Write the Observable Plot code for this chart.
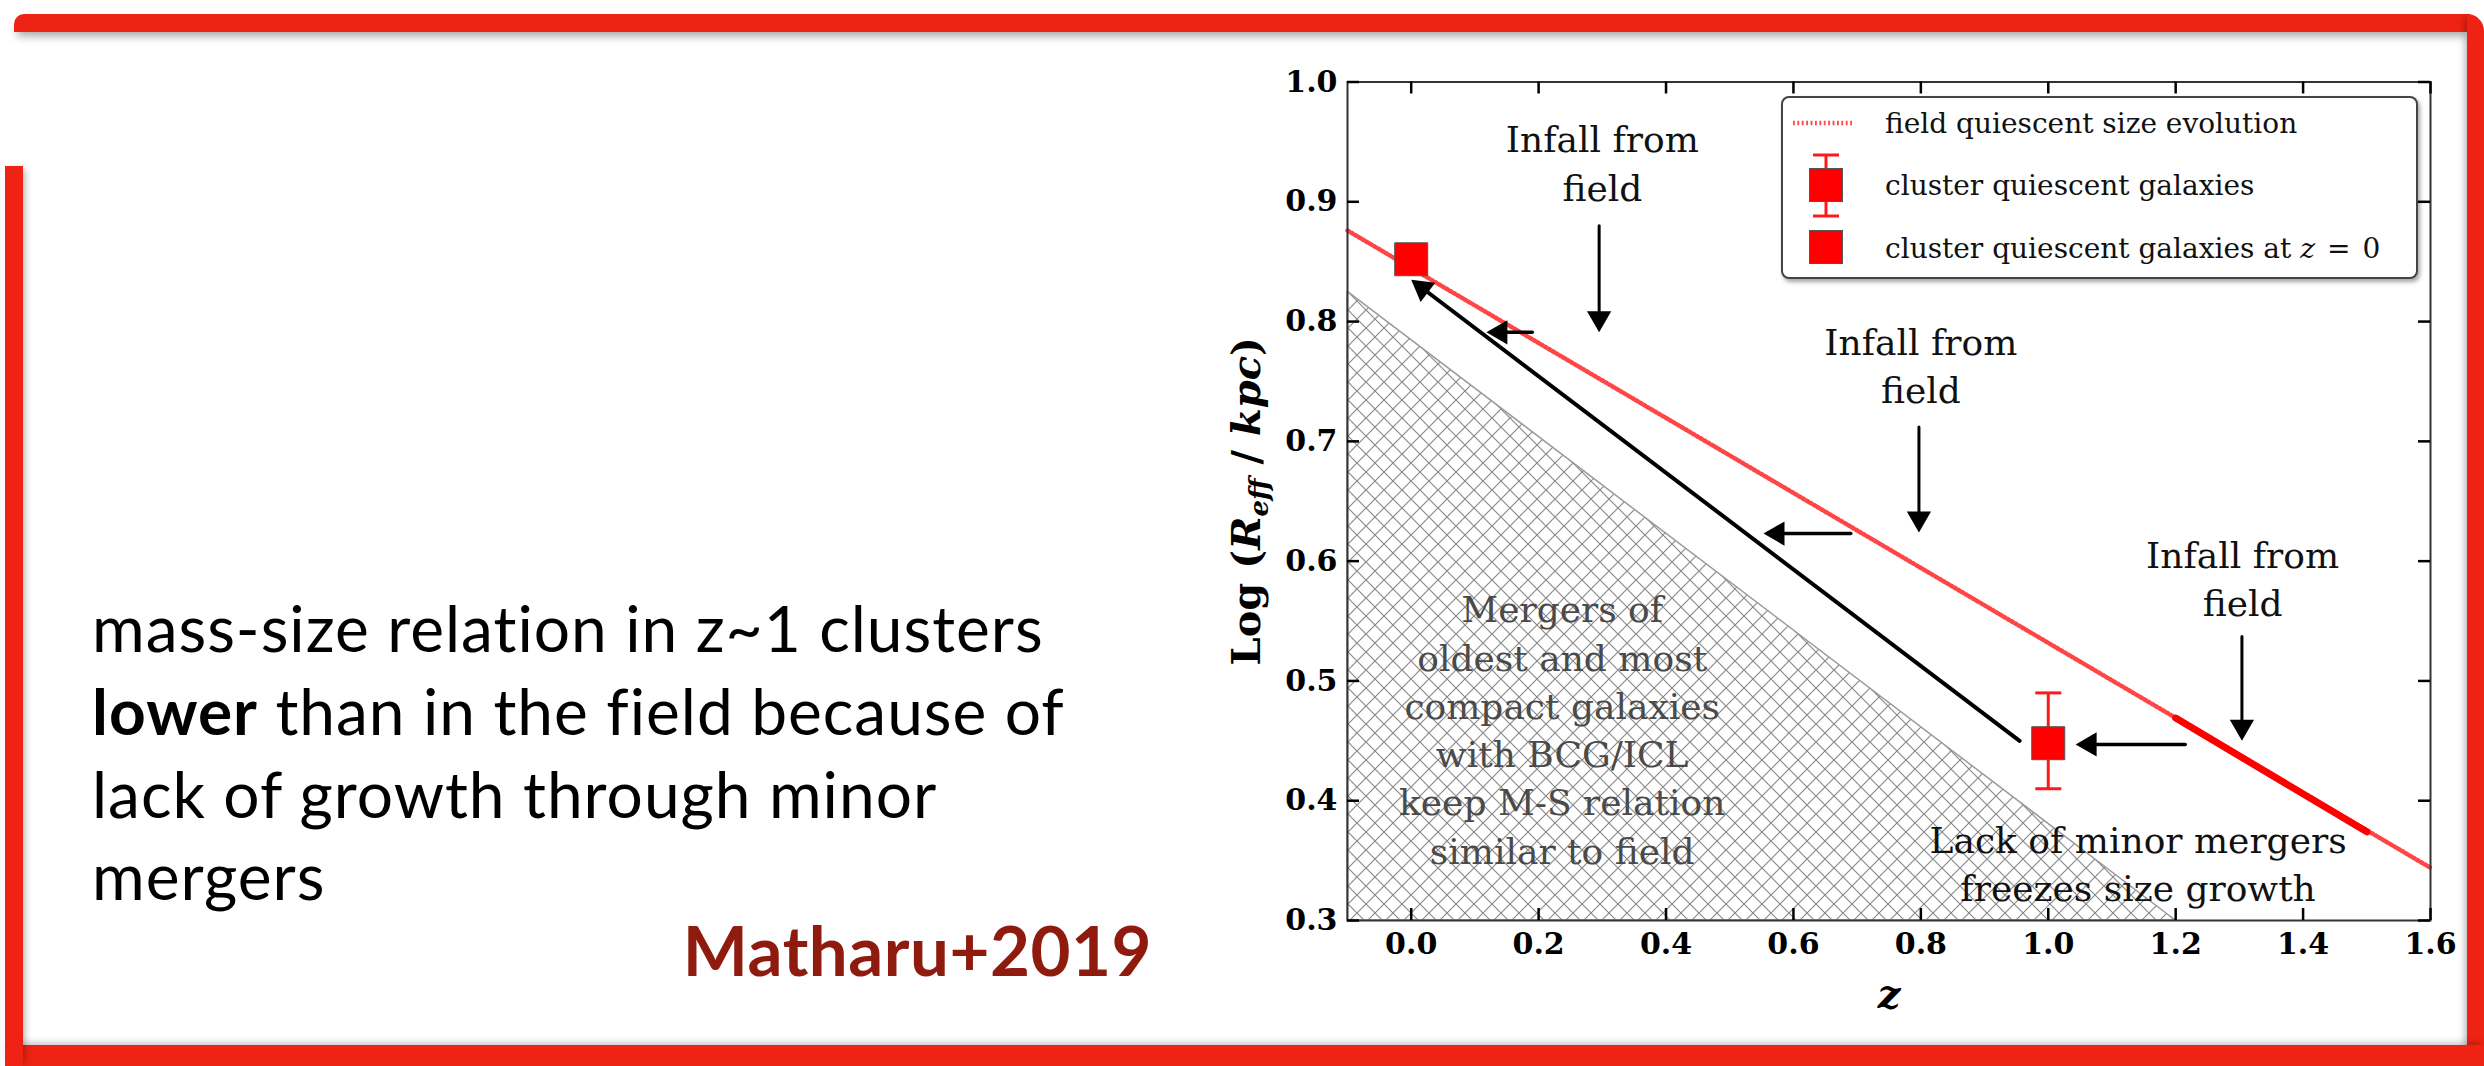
<!DOCTYPE html>
<html><head><meta charset="utf-8">
<script src="https://cdn.jsdelivr.net/npm/d3@7"></script>
<script src="https://cdn.jsdelivr.net/npm/@observablehq/plot@0.6"></script>
<style>
html,body{margin:0;padding:0;background:#fff;}
#page{position:relative;width:2484px;height:1066px;overflow:hidden;background:#fff;}
#chart{position:absolute;left:1150px;top:40px;width:1320px;height:1010px;}
#chart svg{overflow:visible;}
.bar{position:absolute;background:#ee2313;z-index:5;}
#legend,#lefttext{position:absolute;overflow:visible;}
</style></head><body><div id="page">
<div id="chart"></div>
<div class="bar" style="left:14px;top:14px;width:2456px;height:18px;box-shadow:0 7px 8px -3px rgba(0,0,0,0.35);border-top-left-radius:10px;"></div>
<div class="bar" style="left:2467px;top:14px;width:17px;height:1052px;border-top-right-radius:22px;box-shadow:-5px 0 7px -3px rgba(0,0,0,0.3);"></div>
<div class="bar" style="left:5px;top:1045px;width:2479px;height:21px;box-shadow:0 -5px 7px -3px rgba(0,0,0,0.25);"></div>
<div class="bar" style="left:5px;top:166px;width:18px;height:900px;box-shadow:5px 0 7px -3px rgba(0,0,0,0.3);"></div>
</div>
<script>
// ---------- data ----------
const xDomain = [-0.1, 1.6];
const yDomain = [0.3, 1.0];
const xTicks = [0.0, 0.2, 0.4, 0.6, 0.8, 1.0, 1.2, 1.4, 1.6];
const yTicks = [0.3, 0.4, 0.5, 0.6, 0.7, 0.8, 0.9, 1.0];

// field quiescent size evolution (dotted line)
const fieldZ = [-0.1, 1.6];
const fieldLogR = [0.876, 0.344];
// highlighted part of the field relation
const segZ = [1.2, 1.5];
const segLogR = [0.469, 0.374];
// hatched region (mergers with BCG/ICL)
const hatchZ = [-0.1, 1.2];
const hatchTop = [0.825, 0.3];
const hatchBottom = [0.3, 0.3];
// cluster quiescent galaxies (with error bar)
const clusterZ = [1.0];
const clusterLogR = [0.448];
const clusterLo = [0.41];
const clusterHi = [0.49];
// cluster quiescent galaxies at z = 0
const z0Z = [0.0];
const z0LogR = [0.852];

// arrows (tail -> tip)
const arrowKind = ["diag", "left", "down", "left", "down", "left", "down"];
const arrowTailZ = [0.955, 0.19, 0.295, 0.69, 0.797, 1.215, 1.304];
const arrowTailY = [0.45, 0.791, 0.88, 0.623, 0.712, 0.447, 0.537];
const arrowTipZ = [0.0, 0.118, 0.295, 0.553, 0.797, 1.043, 1.304];
const arrowTipY = [0.835, 0.791, 0.791, 0.623, 0.624, 0.447, 0.450];

// annotations
const annText = [
  "Infall from\nfield",
  "Infall from\nfield",
  "Infall from\nfield",
  "Mergers of\noldest and most\ncompact galaxies\nwith BCG/ICL\nkeep M-S relation\nsimilar to field",
  "Lack of minor mergers\nfreezes size growth"
];
const annZ = [0.3, 0.8, 1.305, 0.237, 1.141];
const annY = [0.934, 0.765, 0.587, 0.461, 0.349];
const annGroup = ["infall", "infall", "infall", "mergers", "lack"];

const legendLabels = ["field quiescent size evolution", "cluster quiescent galaxies", "cluster quiescent galaxies at "];
const yLabelText = "Log (Reff / kpc)";
const yLabelParts = [
  {t: "Log (", italic: false},
  {t: "R", italic: true},
  {t: "eff", italic: true, sub: true},
  {t: " / ", italic: false},
  {t: "kpc", italic: true},
  {t: ")", italic: false}
];
const xLabelText = "z";
const introLines = [
  [{t: "mass-size relation in z~1 clusters"}],
  [{t: "lower", b: true}, {t: " than in the field because of"}],
  [{t: "lack of growth through minor"}],
  [{t: "mergers"}]
];
const citation = "Matharu+2019";

// ---------- layout ----------
const W = 1320, H = 1010;
const mL = 197, mR = 40, mT = 41.5, mB = 130;
const plotW = W - mL - mR, plotH = H - mT - mB;
const kx = plotW / (xDomain[1] - xDomain[0]);
const ky = plotH / (yDomain[1] - yDomain[0]);
const serif = "DejaVu Serif";
const RED = "#ff1a1a";
const DOT_RED = "#ff4545";

const fieldData = fieldZ.map((z, i) => ({z, v: fieldLogR[i]}));
const segData = segZ.map((z, i) => ({z, v: segLogR[i]}));
const hatchData = hatchZ.map((z, i) => ({z, lo: hatchBottom[i], hi: hatchTop[i]}));
const clusterData = clusterZ.map((z, i) => ({z, v: clusterLogR[i], lo: clusterLo[i], hi: clusterHi[i]}));
const capData = clusterData.flatMap(d => [{z: d.z, v: d.lo}, {z: d.z, v: d.hi}]);
const z0Data = z0Z.map((z, i) => ({z, v: z0LogR[i]}));
const arrows = arrowKind.map((k, i) => ({kind: k, z1: arrowTailZ[i], y1: arrowTailY[i], z2: arrowTipZ[i], y2: arrowTipY[i]}));
const annData = annText.map((t, i) => ({t, z: annZ[i], v: annY[i], g: annGroup[i]}));

const shaftWidth = {diag: 4, left: 3.5, down: 3};
const headR = 9;                       // triangle symbol radius
const tipOff = 2 * Math.sqrt(Math.PI * headR * headR / (3 * Math.sqrt(3)));
const squareR = 33 / Math.sqrt(Math.PI);
const capR = 26 / Math.sqrt(Math.PI);
const capSymbol = {draw(ctx, size) { const w = Math.sqrt(size); ctx.moveTo(-w / 2, 0); ctx.lineTo(w / 2, 0); }};

const shaftMarks = Object.keys(shaftWidth).map(k =>
  Plot.arrow(arrows.filter(a => a.kind === k), {
    x1: "z1", y1: "y1", x2: "z2", y2: "y2",
    stroke: "#000", strokeWidth: shaftWidth[k], headLength: 0, insetEnd: tipOff * 0.6
  })
);
const headMarks = arrows.map(a => {
  const px = (a.z2 - a.z1) * kx, py = -(a.y2 - a.y1) * ky;
  const len = Math.hypot(px, py), ux = px / len, uy = py / len;
  const ang = Math.atan2(ux, -uy) * 180 / Math.PI;
  return Plot.dot([a], {x: "z2", y: "y2", symbol: "triangle", r: headR, fill: "#000", stroke: "none",
    rotate: ang, dx: -ux * tipOff, dy: -uy * tipOff});
});

const annStyle = {
  infall: {fill: "#111"},
  mergers: {fill: "#4a4a4a"},
  lack: {fill: "#111"}
};
const annMarks = Object.keys(annStyle).map(g =>
  Plot.text(annData.filter(d => d.g === g), {
    x: "z", y: "v", text: "t", fontFamily: serif, fontSize: 36, lineHeight: 1.34,
    textAnchor: "middle", lineAnchor: "middle", fill: annStyle[g].fill
  })
);

const chart = Plot.plot({
  width: W, height: H,
  marginLeft: mL, marginRight: mR, marginTop: mT, marginBottom: mB,
  x: {domain: xDomain},
  y: {domain: yDomain},
  style: {background: "transparent", overflow: "visible", maxWidth: "none"},
  marks: [
    Plot.areaY(hatchData, {x: "z", y1: "lo", y2: "hi", fill: "url(#hatchX)", stroke: "#9a9a9a", strokeWidth: 1.5}),
    Plot.line(fieldData, {x: "z", y: "v", stroke: DOT_RED, strokeWidth: 4.5, strokeDasharray: "1.8,2.6"}),
    Plot.line(segData, {x: "z", y: "v", stroke: "#ff0000", strokeWidth: 7}),
    ...shaftMarks,
    ...headMarks,
    Plot.ruleX(clusterData, {x: "z", y1: "lo", y2: "hi", stroke: RED, strokeWidth: 3}),
    Plot.dot(capData, {x: "z", y: "v", symbol: capSymbol, r: capR, stroke: RED, strokeWidth: 3, fill: "none"}),
    Plot.dot(clusterData, {x: "z", y: "v", symbol: "square", r: squareR, fill: "#ff0000", stroke: "#555", strokeWidth: 1}),
    Plot.dot(z0Data, {x: "z", y: "v", symbol: "square", r: squareR, fill: "#ff0000", stroke: "#555", strokeWidth: 1}),
    ...annMarks,
    Plot.frame({stroke: "#333", strokeWidth: 2}),
    Plot.tickY(yTicks, {y: d => d, insetRight: plotW - 12, stroke: "#000", strokeWidth: 2.5}),
    Plot.tickY(yTicks, {y: d => d, insetLeft: plotW - 12, stroke: "#000", strokeWidth: 2.5}),
    Plot.tickX(xTicks, {x: d => d, insetTop: plotH - 12, stroke: "#000", strokeWidth: 2.5}),
    Plot.tickX(xTicks, {x: d => d, insetBottom: plotH - 12, stroke: "#000", strokeWidth: 2.5}),
    Plot.axisY({ticks: yTicks, tickSize: 0, tickPadding: 10, tickFormat: d3.format(".1f"), label: null,
      fontFamily: serif, fontSize: 30, fontWeight: "bold", fill: "#000"}),
    Plot.axisX({ticks: xTicks, tickSize: 0, tickPadding: 12, tickFormat: d3.format(".1f"), label: null,
      fontFamily: serif, fontSize: 30, fontWeight: "bold", fill: "#000"}),
    Plot.text([yLabelText], {text: d => d, frameAnchor: "left", rotate: -90, dx: -100,
      textAnchor: "middle", lineAnchor: "middle", fontFamily: serif, fontSize: 40, fontWeight: "bold", fill: "#000"}),
    Plot.text([xLabelText], {text: d => d, frameAnchor: "bottom", dy: 75,
      textAnchor: "middle", lineAnchor: "middle", fontFamily: serif, fontSize: 40, fontWeight: "bold", fontStyle: "italic", fill: "#000"})
  ]
});

// hatch pattern definition
const svgSel = d3.select(chart);
const defs = svgSel.insert("defs", ":first-child");
const pat = defs.append("pattern").attr("id", "hatchX").attr("patternUnits", "userSpaceOnUse")
  .attr("width", 18).attr("height", 18);
pat.append("path").attr("d", "M-2,-2L20,20M20,-2L-2,20").attr("stroke", "#8a8a8a").attr("stroke-width", 1.2).attr("fill", "none");

// rich y label (subscript)
svgSel.selectAll("text").filter(function () { return this.textContent === yLabelText; }).each(function () {
  const t = d3.select(this);
  t.text(null);
  yLabelParts.forEach(p => {
    const s = t.append("tspan").text(p.t);
    if (p.italic) s.attr("font-style", "italic");
    if (p.sub) s.attr("font-size", "26px").attr("dy", 8);
    else if (p.t === " / ") s.attr("dy", -8);
  });
});
document.getElementById("chart").appendChild(chart);

// ---------- legend ----------
const lg = d3.select("#page").append("svg").attr("id", "legend")
  .attr("width", 680).attr("height", 210).style("left", "1770px").style("top", "85px");
lg.append("rect").attr("x", 12).attr("y", 12).attr("width", 635).attr("height", 181).attr("rx", 7)
  .attr("fill", "#fff").attr("stroke", "#444").attr("stroke-width", 2)
  .style("filter", "drop-shadow(2px 3px 2px rgba(0,0,0,0.35))");
lg.append("line").attr("x1", 23).attr("x2", 82).attr("y1", 38).attr("y2", 38)
  .attr("stroke", DOT_RED).attr("stroke-width", 4.5).attr("stroke-dasharray", "1.8,2.6");
lg.append("line").attr("x1", 56).attr("x2", 56).attr("y1", 70).attr("y2", 131).attr("stroke", RED).attr("stroke-width", 3);
[70, 131].forEach(y => lg.append("line").attr("x1", 43).attr("x2", 69).attr("y1", y).attr("y2", y).attr("stroke", RED).attr("stroke-width", 3));
[100, 162].forEach(y => lg.append("rect").attr("x", 56 - 16.5).attr("y", y - 16.5).attr("width", 33).attr("height", 33)
  .attr("fill", "#ff0000").attr("stroke", "#555").attr("stroke-width", 1));
const lgText = lg.append("g").attr("font-family", serif).attr("font-size", 28).attr("fill", "#111");
lgText.append("text").attr("x", 115).attr("y", 48).text(legendLabels[0]);
lgText.append("text").attr("x", 115).attr("y", 110).text(legendLabels[1]);
const t3 = lgText.append("text").attr("x", 115).attr("y", 173).text(legendLabels[2]);
t3.append("tspan").attr("font-style", "italic").text("z");
t3.append("tspan").attr("dx", 12).text("=");
t3.append("tspan").attr("dx", 12).text("0");

// ---------- left text ----------
const lt = d3.select("#page").insert("svg", "#chart").attr("id", "lefttext")
  .attr("width", 1200).attr("height", 1066).style("left", "0px").style("top", "0px");
const baselines = [652, 735, 818, 900];
introLines.forEach((parts, i) => {
  const t = lt.append("text").attr("x", 92).attr("y", baselines[i]).attr("font-family", "Lato")
    .attr("font-size", 64).attr("letter-spacing", 1).attr("fill", "#000");
  parts.forEach(p => { const s = t.append("tspan").text(p.t); if (p.b) s.attr("font-weight", 700); });
});
lt.append("text").attr("x", 1152).attr("y", 976).attr("text-anchor", "end").attr("font-family", "Lato")
  .attr("font-weight", 700).attr("font-size", 69).attr("letter-spacing", 0.5).attr("fill", "#8e1b0e").text(citation);
</script></body></html>
